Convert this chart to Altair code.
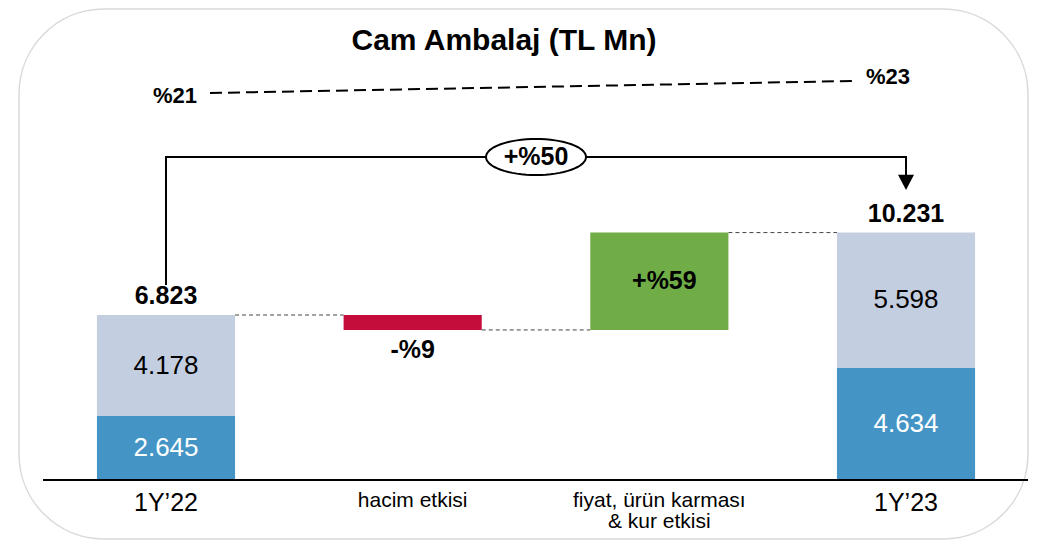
import math
import altair as alt
import pandas as pd

# ---------------- data ----------------
categories = ["1Y’22", "hacim etkisi", "fiyat, ürün karması\n& kur etkisi", "1Y’23"]
total_22 = 6823
total_23 = 10231
lower_22 = 2645          # dark blue segment 1Y'22
upper_22 = 4178          # light segment 1Y'22
lower_23 = 4634          # dark blue segment 1Y'23
upper_23 = 5598          # light segment 1Y'23
effects = [-618, 4026]   # hacim etkisi, fiyat/ürün karması/kur etkisi
effect_labels = ["-%9", "+%59"]
growth_label = "+%50"
margin_labels = ["%21", "%23"]
title_text = "Cam Ambalaj (TL Mn)"

BLUE = "#4495C6"
LIGHT = "#C3CEE1"
RED = "#C50D3C"
GREEN = "#70AD47"
FONT = "Liberation Sans"

W, H = 1021, 530
STEP = 246.67              # px between category centres
K = 165 / 6823             # px per TL Mn
X0_PAGE, Y0_PAGE = 166, 480
HALF = 0.28                # bar half width (category units)

x_scale = alt.Scale(domain=[(8 - X0_PAGE) / STEP, (8 + W - X0_PAGE) / STEP], nice=False, zero=False)
y_scale = alt.Scale(domain=[(Y0_PAGE - 8 - H) / K, (Y0_PAGE - 8) / K], nice=False, zero=False)


def px(page_x):
    return (page_x - X0_PAGE) / STEP


def py(page_y):
    return (Y0_PAGE - page_y) / K


def X(f):
    return alt.X(f, type="quantitative", scale=x_scale, axis=None)


def Y(f):
    return alt.Y(f, type="quantitative", scale=y_scale, axis=None)


def fmt(v):
    return f"{v:,}".replace(",", ".")


# ---------------- bars ----------------
after_volume = total_22 + effects[0]
after_price = after_volume + effects[1]
bars = pd.DataFrame([
    dict(i=0, y0=0, y1=lower_22, color=BLUE, label=fmt(lower_22), tc="white"),
    dict(i=0, y0=lower_22, y1=lower_22 + upper_22, color=LIGHT, label=fmt(upper_22), tc="black"),
    dict(i=1, y0=after_volume, y1=total_22, color=RED, label="", tc="black"),
    dict(i=2, y0=after_volume, y1=after_price, color=GREEN, label="", tc="black"),
    dict(i=3, y0=0, y1=lower_23, color=BLUE, label=fmt(lower_23), tc="white"),
    dict(i=3, y0=lower_23, y1=lower_23 + upper_23, color=LIGHT, label=fmt(upper_23), tc="black"),
])
bars["xa"] = bars["i"] - HALF
bars["xb"] = bars["i"] + HALF
bars["ym"] = (bars["y0"] + bars["y1"]) / 2

bar_layer = alt.Chart(bars).mark_rect().encode(
    x=X("xa"), x2="xb", y=Y("y0"), y2="y1",
    color=alt.Color("color:N", scale=None),
)

seg_text = alt.Chart(bars[bars["label"] != ""]).mark_text(
    font=FONT, fontSize=26, baseline="middle", align="center"
).encode(x=X("i"), y=Y("ym"), text="label:N", color=alt.Color("tc:N", scale=None))

totals = pd.DataFrame(dict(i=[0, 3], v=[total_22, total_23], label=[fmt(total_22), fmt(total_23)]))
total_text = alt.Chart(totals).mark_text(
    font=FONT, fontSize=25, fontWeight="bold", baseline="middle", dy=-19
).encode(x=X("i"), y=Y("v"), text="label:N")

eff = pd.DataFrame(dict(i=[1, 2], label=effect_labels,
                        y=[after_volume, (after_volume + after_price) / 2]))
eff_neg = alt.Chart(eff.iloc[[0]]).mark_text(
    font=FONT, fontSize=25, fontWeight="bold", baseline="middle", dy=20
).encode(x=X("i"), y=Y("y"), text="label:N")
eff_pos = alt.Chart(eff.iloc[[1]]).mark_text(
    font=FONT, fontSize=25, fontWeight="bold", baseline="middle", dx=5
).encode(x=X("i"), y=Y("y"), text="label:N")

# connectors between bars
conn = pd.DataFrame(dict(xa=[0 + HALF, 1 + HALF, 2 + HALF],
                         xb=[1 - HALF, 2 - HALF, 3 - HALF],
                         y=[total_22, after_volume, after_price]))
conn_layer = alt.Chart(conn).mark_rule(color="#444444", strokeWidth=1, strokeDash=[4, 3]).encode(
    x=X("xa"), x2="xb", y=Y("y"))

# baseline
base = pd.DataFrame(dict(xa=[px(43)], xb=[px(1028)], y=[0]))
base_layer = alt.Chart(base).mark_rule(color="black", strokeWidth=2).encode(x=X("xa"), x2="xb", y=Y("y"))

# category labels
cat_rows = []
for i, c in enumerate(categories):
    lines = c.split("\n")
    big = c.startswith("1Y")
    for j, ln in enumerate(lines):
        cat_rows.append(dict(i=i, label=ln, y=py((503 if big else 501) + 21 * j), big=big))
cats = pd.DataFrame(cat_rows)
cat_big = alt.Chart(cats[cats["big"]]).mark_text(font=FONT, fontSize=25, baseline="middle").encode(
    x=X("i"), y=Y("y"), text="label:N")
cat_small = alt.Chart(cats[~cats["big"]]).mark_text(font=FONT, fontSize=21, baseline="middle").encode(
    x=X("i"), y=Y("y"), text="label:N")

# growth bracket with arrow
top_y = py(157)
bracket = pd.DataFrame(dict(x=[0, 0, 3, 3], y=[py(285), top_y, top_y, py(175)], o=[0, 1, 2, 3]))
bracket_layer = alt.Chart(bracket).mark_line(color="black", strokeWidth=2, strokeJoin="miter").encode(
    x=X("x"), y=Y("y"), order="o:Q")
arrow = pd.DataFrame(dict(x=[3], y=[py(182)]))
arrow_layer = alt.Chart(arrow).mark_point(
    shape="M-1,-0.9L1,-0.9L0,1Z", size=256, filled=True, color="black", opacity=1
).encode(x=X("x"), y=Y("y"))

n = 64
ellipse_path = "M" + "L".join(
    f"{math.cos(2 * math.pi * t / n):.4f},{0.36 * math.sin(2 * math.pi * t / n):.4f}" for t in range(n)
) + "Z"
ell = pd.DataFrame(dict(x=[1.5], y=[top_y], label=[growth_label]))
ell_layer = alt.Chart(ell).mark_point(
    shape=ellipse_path, size=10000, filled=True, fill="white", stroke="black",
    strokeWidth=2, opacity=1, fillOpacity=1, strokeOpacity=1
).encode(x=X("x"), y=Y("y"))
ell_text = alt.Chart(ell).mark_text(font=FONT, fontSize=25, fontWeight="bold", baseline="middle").encode(
    x=X("x"), y=Y("y"), text="label:N")

# margin dashed line
mline = pd.DataFrame(dict(x=[px(210), px(853)], y=[py(93), py(81)], o=[0, 1]))
mline_layer = alt.Chart(mline).mark_line(color="black", strokeWidth=2, strokeDash=[12, 6]).encode(
    x=X("x"), y=Y("y"), order="o:Q")
mlab = pd.DataFrame(dict(x=[px(175), px(888)], y=[py(96), py(77)], label=margin_labels))
mlab_layer = alt.Chart(mlab).mark_text(font=FONT, fontSize=22, fontWeight="bold", baseline="middle").encode(
    x=X("x"), y=Y("y"), text="label:N")

# title
ttl = pd.DataFrame(dict(x=[px(504)], y=[py(41)], label=[title_text]))
title_layer = alt.Chart(ttl).mark_text(font=FONT, fontSize=30, fontWeight="bold", baseline="middle").encode(
    x=X("x"), y=Y("y"), text="label:N")

# rounded frame
frame = alt.Chart(pd.DataFrame(dict(a=[1]))).mark_rect(
    fill="white", fillOpacity=0, stroke="#D9D9D9", strokeWidth=1.5, cornerRadius=85
).encode(x=alt.value(11), x2=alt.value(1020), y=alt.value(1), y2=alt.value(531))

chart = alt.layer(
    frame, conn_layer, bar_layer, base_layer, seg_text, total_text, eff_neg, eff_pos,
    cat_big, cat_small, bracket_layer, arrow_layer, ell_layer, ell_text,
    mline_layer, mlab_layer, title_layer,
).properties(width=W, height=H, padding=0, background="white").configure_view(stroke=None)

chart.save("out.html", embed_options={"renderer": "svg", "actions": False})
